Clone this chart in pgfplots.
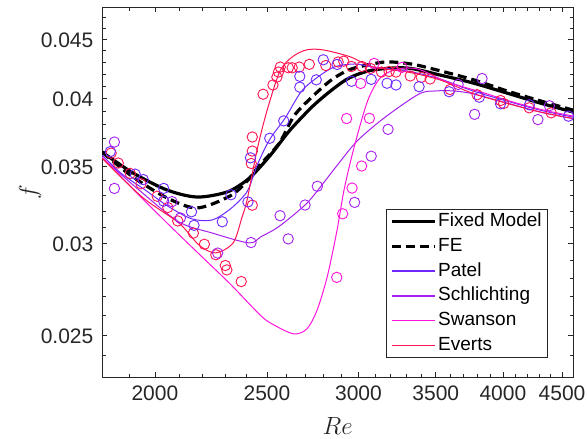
\documentclass[border=0pt]{standalone}
\usepackage{fontspec}
\setmainfont{Liberation Sans}
\usepackage{pgfplots}
\pgfplotsset{compat=1.18}
\definecolor{colPatel}{RGB}{110,40,255}
\definecolor{colSchl}{RGB}{165,32,240}
\definecolor{colSwan}{RGB}{255,20,220}
\definecolor{colEverts}{RGB}{255,20,80}
\definecolor{axgray}{RGB}{38,38,38}
\begin{document}
\begin{tikzpicture}
\begin{axis}[
  name=ax,
  scale only axis, width=471pt, height=370pt,
  xmode=log, ymode=log,
  xmin=1800, xmax=4600, ymin=0.023, ymax=0.048,
  xtick={2000,2500,3000,3500,4000,4500},
  xticklabels={2000,2500,3000,3500,4000,4500},
  minor xtick={1800,1900,2100,2200,2300,2400,2600,2700,2800,2900,3100,3200,3300,3400,3600,3700,3800,3900,4100,4200,4300,4400,4600},
  ytick={0.025,0.03,0.035,0.04,0.045},
  yticklabels={0.025,0.03,0.035,0.04,0.045},
  minor ytick={0.023,0.024,0.026,0.027,0.028,0.029,0.031,0.032,0.033,0.034,0.036,0.037,0.038,0.039,0.041,0.042,0.043,0.044,0.046,0.047,0.048},
  /pgf/number format/assume math mode=true,
  tick align=inside, tick pos=both,
  major tick length=5pt, minor tick length=3.5pt,
  axis line style={axgray, line width=0.8pt},
  every tick/.style={axgray, line width=0.8pt},
  ticklabel style={font=\fontsize{21}{24}\selectfont, text=axgray},
  xticklabel style={inner sep=0pt, yshift=-8.5pt},
  yticklabel style={inner sep=0pt, xshift=-8.5pt, yshift=-1pt},
  xlabel={$Re$}, ylabel={$f$},
  label style={font=\fontsize{23}{26}\selectfont, text=axgray},
  xlabel style={at={(axis description cs:0.5,0)}, anchor=center, yshift=-49pt},
  ylabel style={at={(axis description cs:0,0.5)}, anchor=center, rotate=0, yshift=72pt},
  legend style={at={(0.947,0.051)}, anchor=south east, draw=axgray, line width=0.8pt,
    inner xsep=4pt, inner ysep=2pt, row sep=3.7pt,
    nodes={inner xsep=2pt, inner ysep=1.5pt, text height=14pt, text depth=4pt, text=black},
    font=\fontsize{19}{22}\selectfont},
  legend cell align=left,
  legend image code/.code={\draw[#1] (0pt,0pt) -- (43pt,0pt);},
]
% scatter data
\addplot[forget plot, only marks, mark=o, mark size=5.2pt, colEverts, mark options={line width=0.9pt}] coordinates {
(1833,0.0359) (1859,0.03520) (1904,0.03448) (1945,0.03378) (2009,0.03295) (2052,0.03222) (2093,0.03137) (2159,0.03062) (2207,0.02995) (2258,0.02933) (2301,0.02871) (2308,0.02846) (2375,0.02781) (2428,0.03237) (2423,0.03517) (2428,0.03605) (2428,0.03707) (2481,0.04036) (2530,0.04111) (2550,0.04176) (2558,0.04218) (2567,0.04260) (2609,0.04254) (2629,0.04254) (2666,0.04260) (2720,0.04283) (2811,0.04273) (2881,0.04303) (2913,0.04310) (2959,0.04265) (3021,0.04265) (3073,0.04248) (3141,0.04218) (3189,0.04222) (3233,0.04218) (3326,0.04185) (3400,0.04174) (3460,0.04160) (3601,0.04074) (3800,0.04032) (3982,0.03986) (4006,0.03962) (4215,0.03929) (4404,0.03890)
};
\addplot[forget plot, only marks, mark=o, mark size=5.2pt, colPatel, mark options={line width=0.9pt}] coordinates {
(1830,0.03601) (1923,0.03443) (1954,0.03406) (2035,0.03347) (2035,0.03263) (2151,0.03195) (2162,0.03110) (2287,0.03132) (2327,0.03305) (2407,0.03258) (2419,0.03557) (2514,0.03698) (2585,0.03828) (2669,0.04182) (2669,0.04093) (2758,0.04153) (2797,0.04322) (2875,0.04282) (2959,0.04141) (3077,0.04157) (3176,0.04125) (3233,0.04111) (3385,0.04097) (3594,0.04056) (3817,0.04012) (3982,0.03960) (4217,0.03952) (4558,0.03864)
};
\addplot[forget plot, only marks, mark=o, mark size=5.2pt, colSchl, mark options={line width=0.9pt}] coordinates {
(1845,0.03670) (1845,0.03347) (2069,0.03260) (2104,0.03156) (2266,0.02943) (2422,0.03005) (2566,0.03170) (2608,0.03027) (2697,0.03238) (2764,0.03361) (2977,0.03255) (3077,0.03568) (3182,0.03764) (3659,0.04115) (3781,0.03878) (3838,0.04164) (4289,0.03838) (4388,0.03945)
};
\addplot[forget plot, only marks, mark=o, mark size=5.2pt, colSwan, mark options={line width=0.9pt}] coordinates {
(2873,0.02804) (2907,0.03182) (2930,0.03846) (2962,0.03349) (3019,0.03499) (3013,0.04123) (3066,0.03848) (3095,0.04291) (3272,0.04257)
};

% model lines
\addplot[black, line width=3.2pt, solid, smooth, tension=0.5] coordinates {
(1800,0.03598) (1915,0.03451) (2049,0.03336) (2175,0.03290) (2309,0.03323) (2403,0.03403) (2466,0.03492) (2530,0.03598) (2618,0.03759) (2740,0.03943) (2852,0.04078) (2950,0.04172) (3088,0.04235) (3305,0.04252) (3529,0.04193) (3769,0.04127) (4033,0.04045) (4307,0.03966) (4600,0.03896)
};
\addlegendentry{Fixed Model}
\addplot[black, line width=3.2pt, dash pattern=on 9pt off 5pt, smooth, tension=0.5] coordinates {
(1800,0.03598) (1915,0.03423) (2049,0.03284) (2175,0.03219) (2323,0.03297) (2403,0.03396) (2456,0.03492) (2561,0.03660) (2638,0.03865) (2729,0.04006) (2835,0.04144) (2921,0.04221) (2998,0.04260) (3163,0.04303) (3331,0.04286) (3508,0.04235) (3777,0.04152) (4033,0.04062) (4316,0.03982) (4600,0.03911)
};
\addlegendentry{FE}
\addplot[draw=colPatel, line width=1pt, solid, smooth, tension=0.5,
  legend image code/.code={\draw[colPatel, line width=1.5pt] (0pt,0pt) -- (43pt,0pt);}] coordinates {
(1800,0.03576) (1873,0.03444) (1961,0.03337) (2057,0.03226) (2153,0.03150) (2241,0.03143) (2318,0.03206) (2379,0.03284) (2412,0.03350) (2456,0.03520) (2515,0.03692) (2592,0.03849) (2675,0.04054) (2752,0.04160) (2858,0.04260) (2980,0.04286) (3088,0.04260) (3305,0.04227) (3530,0.04160) (3769,0.04062) (4033,0.03982) (4307,0.03911) (4600,0.03857)
};
\addlegendentry{Patel}
\addplot[draw=colSchl, line width=1pt, solid, smooth, tension=0.5,
  legend image code/.code={\draw[colSchl, line width=1.5pt] (0pt,0pt) -- (43pt,0pt);}] coordinates {
(1800,0.03558) (1937,0.03337) (2098,0.03131) (2241,0.03063) (2412,0.03003) (2470,0.03040) (2561,0.03103) (2697,0.03238) (2768,0.03337) (2881,0.03513) (2998,0.03685) (3169,0.03861) (3385,0.04038) (3494,0.04062) (3630,0.04062) (3775,0.04038) (4033,0.03966) (4307,0.03896) (4600,0.03845)
};
\addlegendentry{Schlichting}
\addplot[draw=colSwan, line width=1pt, solid, smooth, tension=0.5,
  legend image code/.code={\draw[colSwan, line width=1.5pt] (0pt,0pt) -- (43pt,0pt);}] coordinates {
(1800,0.03562) (1918,0.03337) (2061,0.03106) (2188,0.02932) (2323,0.02768) (2470,0.02598) (2535,0.02551) (2637,0.02506) (2707,0.02531) (2763,0.02629) (2819,0.02808) (2875,0.03082) (2915,0.03337) (2975,0.03637) (3057,0.03990) (3138,0.04176) (3246,0.04243) (3378,0.04243) (3580,0.04136) (3829,0.04054) (4081,0.03974) (4349,0.03909) (4600,0.03865)
};
\addlegendentry{Swanson}
\addplot[draw=colEverts, line width=1pt, solid, smooth, tension=0.5,
  legend image code/.code={\draw[colEverts, line width=1.5pt] (0pt,0pt) -- (43pt,0pt);}] coordinates {
(1800,0.03555) (1949,0.03291) (2098,0.03124) (2183,0.02991) (2256,0.02944) (2337,0.03003) (2379,0.03162) (2403,0.03271) (2451,0.03612) (2501,0.03911) (2566,0.04227) (2632,0.04350) (2706,0.04408) (2795,0.04408) (2950,0.04348) (3088,0.04261) (3305,0.04219) (3530,0.04152) (3769,0.04042) (4033,0.03964) (4307,0.03897) (4600,0.03846)
};
\addlegendentry{Everts}
\end{axis}
\pgfresetboundingbox
\path[use as bounding box] ([xshift=-102pt,yshift=-61pt]ax.south west) rectangle ([xshift=14pt,yshift=7pt]ax.north east);
\end{tikzpicture}
\end{document}
